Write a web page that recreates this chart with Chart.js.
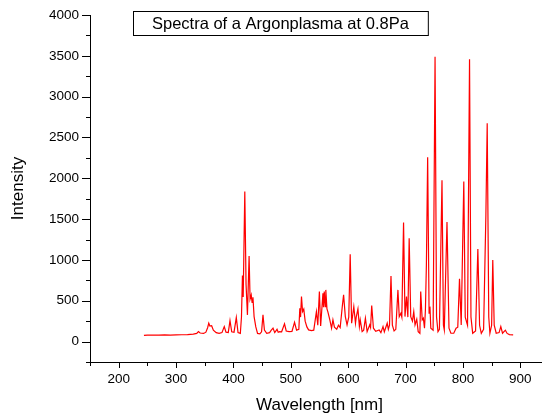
<!DOCTYPE html>
<html>
<head>
<meta charset="utf-8">
<script src="https://cdn.jsdelivr.net/npm/chart.js@4.4.1/dist/chart.umd.min.js"></script>
<style>
    html, body { margin: 0; padding: 0; background: #fff; overflow: hidden; }
    #wrap { width: 552px; height: 416px; }
</style>
</head>
<body>
<div id="wrap"><canvas id="spectrum"></canvas></div>
<script>
// Spectre : longueur d'onde (nm) / intensite
const wavelength = [
    244, 250, 260, 270, 280, 290, 300, 310, 320, 330, 336, 339, 342, 348, 352, 355, 357, 359, 362, 365,
    370, 375, 380, 384, 387, 391, 394, 397, 401, 405, 408, 412, 414, 415.7, 417, 419.8, 422, 424.4, 427.3, 429,
    431, 432.5, 434, 436, 439, 442, 446, 449, 451.5, 454, 458, 463, 466, 469, 472, 476, 478, 480.5, 484, 489,
    492, 497, 502, 506.5, 510, 514, 515.7, 517, 518.6, 520.5, 522.6, 525, 528, 531, 536, 540, 544.6, 547, 549.8, 552,
    556, 557, 558.3, 560, 561, 563, 564.5, 568, 571, 573.4, 576, 580, 583, 586, 589.7, 592, 595, 598, 601, 603.5,
    606, 609.8, 612.7, 614, 617, 619.5, 621, 624.3, 627, 630, 633, 637.5, 639, 641, 644, 648, 654, 657, 660.7, 663,
    668, 670, 672, 674.6, 677, 680, 683, 686.7, 689, 691.9, 693.5, 696.5, 699, 701.6, 704, 706.3, 709, 712, 714.3, 716.5,
    719.5, 722, 725, 726.4, 729, 731, 733, 734.6, 736.3, 738.5, 741, 742.5, 744, 748, 751.4, 754, 756.5, 759, 763.5, 766,
    767.5, 772.2, 775.7, 779, 784, 788, 791, 794, 797, 801.5, 804, 808, 811.5, 814, 817, 822, 826, 829, 832, 836,
    840, 842.3, 845, 847, 850, 852, 854.5, 858, 863, 866, 869, 874, 877, 881, 887.5
];
const intensity = [
    75, 80, 78, 80, 82, 80, 82, 84, 86, 92, 100, 122, 105, 100, 115, 170, 225, 190, 195, 140,
    110, 100, 110, 184, 115, 110, 257, 120, 115, 294, 110, 100, 300, 808, 546, 1837, 700, 327, 1049, 520,
    572, 480, 543, 306, 180, 100, 95, 120, 327, 140, 100, 110, 140, 164, 110, 150, 115, 122, 120, 217,
    130, 122, 125, 237, 140, 150, 409, 300, 551, 367, 397, 250, 180, 143, 135, 140, 367, 200, 612, 192,
    592, 420, 612, 428, 633, 400, 367, 266, 164, 266, 176, 152, 200, 170, 428, 572, 306, 204, 300, 1070,
    225, 428, 225, 300, 400, 184, 266, 122, 140, 286, 122, 204, 170, 441, 164, 125, 143, 110, 184, 120,
    225, 150, 200, 804, 200, 130, 150, 633, 306, 347, 300, 1457, 306, 551, 300, 1266, 306, 250, 367, 204,
    274, 122, 102, 612, 266, 286, 164, 388, 939, 2258, 347, 428, 164, 140, 3490, 300, 122, 150, 1975, 200,
    143, 1465, 164, 102, 102, 164, 176, 768, 204, 1960, 300, 200, 3458, 300, 102, 130, 1135, 200, 102, 150,
    1550, 2674, 300, 102, 200, 1000, 200, 102, 110, 184, 102, 140, 100, 86, 82
];

const xTickLabels = [200, 300, 400, 500, 600, 700, 800, 900];
const yTickLabels = [0, 500, 1000, 1500, 2000, 2500, 3000, 3500, 4000];
const chartTitle = 'Spectra of a Argonplasma at 0.8Pa';

Chart.defaults.font.family = '"Liberation Sans", Arial, sans-serif';
Chart.defaults.color = '#000';

// --------------------------------------------------------------------------

// Graduations : grandes pour les valeurs etiquetees, petites sinon
const tickMarks = {
    id: 'tickMarks',
    afterDraw: chart => {
        const { ctx, scales: { x, y } } = chart;
        ctx.save();
        ctx.strokeStyle = '#000';
        ctx.lineWidth = 1;
        ctx.beginPath();
        x.ticks.forEach(t => {
            const px = Math.round(x.getPixelForValue(t.value)) + 0.5;
            const len = xTickLabels.includes(t.value) ? 6 : 4;
            ctx.moveTo(px, x.top);
            ctx.lineTo(px, x.top + len);
        });
        y.ticks.forEach(t => {
            const py = Math.round(y.getPixelForValue(t.value)) + 0.5;
            const len = yTickLabels.includes(t.value) ? 8 : 4;
            ctx.moveTo(y.right, py);
            ctx.lineTo(y.right - len, py);
        });
        ctx.stroke();
        ctx.restore();
    }
};

// Cadre du titre dans la zone du graphique
const titleBox = {
    id: 'titleBox',
    afterDraw: chart => {
        const ctx = chart.ctx;
        const area = chart.chartArea;
        ctx.save();
        ctx.font = '16.5px "Liberation Sans", Arial, sans-serif';
        const w = ctx.measureText(chartTitle).width;
        const left = area.left + 43, top = 11, h = 24, padX = 19;
        ctx.fillStyle = '#fff';
        ctx.fillRect(left, top, w + 2 * padX, h);
        ctx.strokeStyle = '#000';
        ctx.lineWidth = 1;
        ctx.strokeRect(left + 0.5, top + 0.5, w + 2 * padX, h);
        ctx.fillStyle = '#000';
        ctx.textBaseline = 'middle';
        ctx.fillText(chartTitle, left + padX, top + h / 2 + 1);
        ctx.restore();
    }
};

const buildTicks = (from, to, step) => scale => {
    scale.ticks = [];
    for (let v = from; v <= to; v += step) scale.ticks.push({ value: v });
};

// --------------------------------------------------------------------------

new Chart(document.getElementById('spectrum'), {
    type: 'line',
    data: {
        datasets: [{
            data: wavelength.map((w, i) => ({ x: w, y: intensity[i] })),
            borderColor: '#ff0000',
            borderWidth: 1.2,
            pointRadius: 0,
            tension: 0,
            fill: false
        }]
    },
    options: {
        responsive: true,
        maintainAspectRatio: false,
        animation: false,
        layout: { padding: { top: 15, right: 0, left: 0, bottom: 0 } },
        plugins: {
            legend: { display: false },
            tooltip: { enabled: false }
        },
        scales: {
            x: {
                type: 'linear',
                min: 150,
                max: 950,
                afterBuildTicks: buildTicks(150, 950, 50),
                afterFit: s => { s.height = 54; },
                grid: { display: true, drawOnChartArea: false, drawTicks: true, tickLength: 6, tickColor: 'rgba(0,0,0,0)' },
                border: { display: true, color: '#000', width: 1 },
                ticks: {
                    padding: 3,
                    autoSkip: false,
                    maxRotation: 0,
                    font: { size: 13.5 },
                    callback: v => xTickLabels.includes(v) ? String(v) : ''
                },
                title: { display: true, text: 'Wavelength [nm]', font: { size: 17 }, padding: { top: 4, bottom: 0 } }
            },
            y: {
                type: 'linear',
                min: -250,
                max: 4000,
                afterBuildTicks: buildTicks(-250, 4000, 250),
                afterFit: s => { s.width = 90; },
                grid: { display: true, drawOnChartArea: false, drawTicks: true, tickLength: 8, tickColor: 'rgba(0,0,0,0)' },
                border: { display: true, color: '#000', width: 1 },
                ticks: {
                    padding: 3,
                    autoSkip: false,
                    font: { size: 13.5 },
                    callback: v => yTickLabels.includes(v) ? String(v) : ''
                },
                title: { display: true, text: 'Intensity', font: { size: 17 }, padding: { top: 8, bottom: 0 } }
            }
        }
    },
    plugins: [tickMarks, titleBox]
});
</script>
</body>
</html>
